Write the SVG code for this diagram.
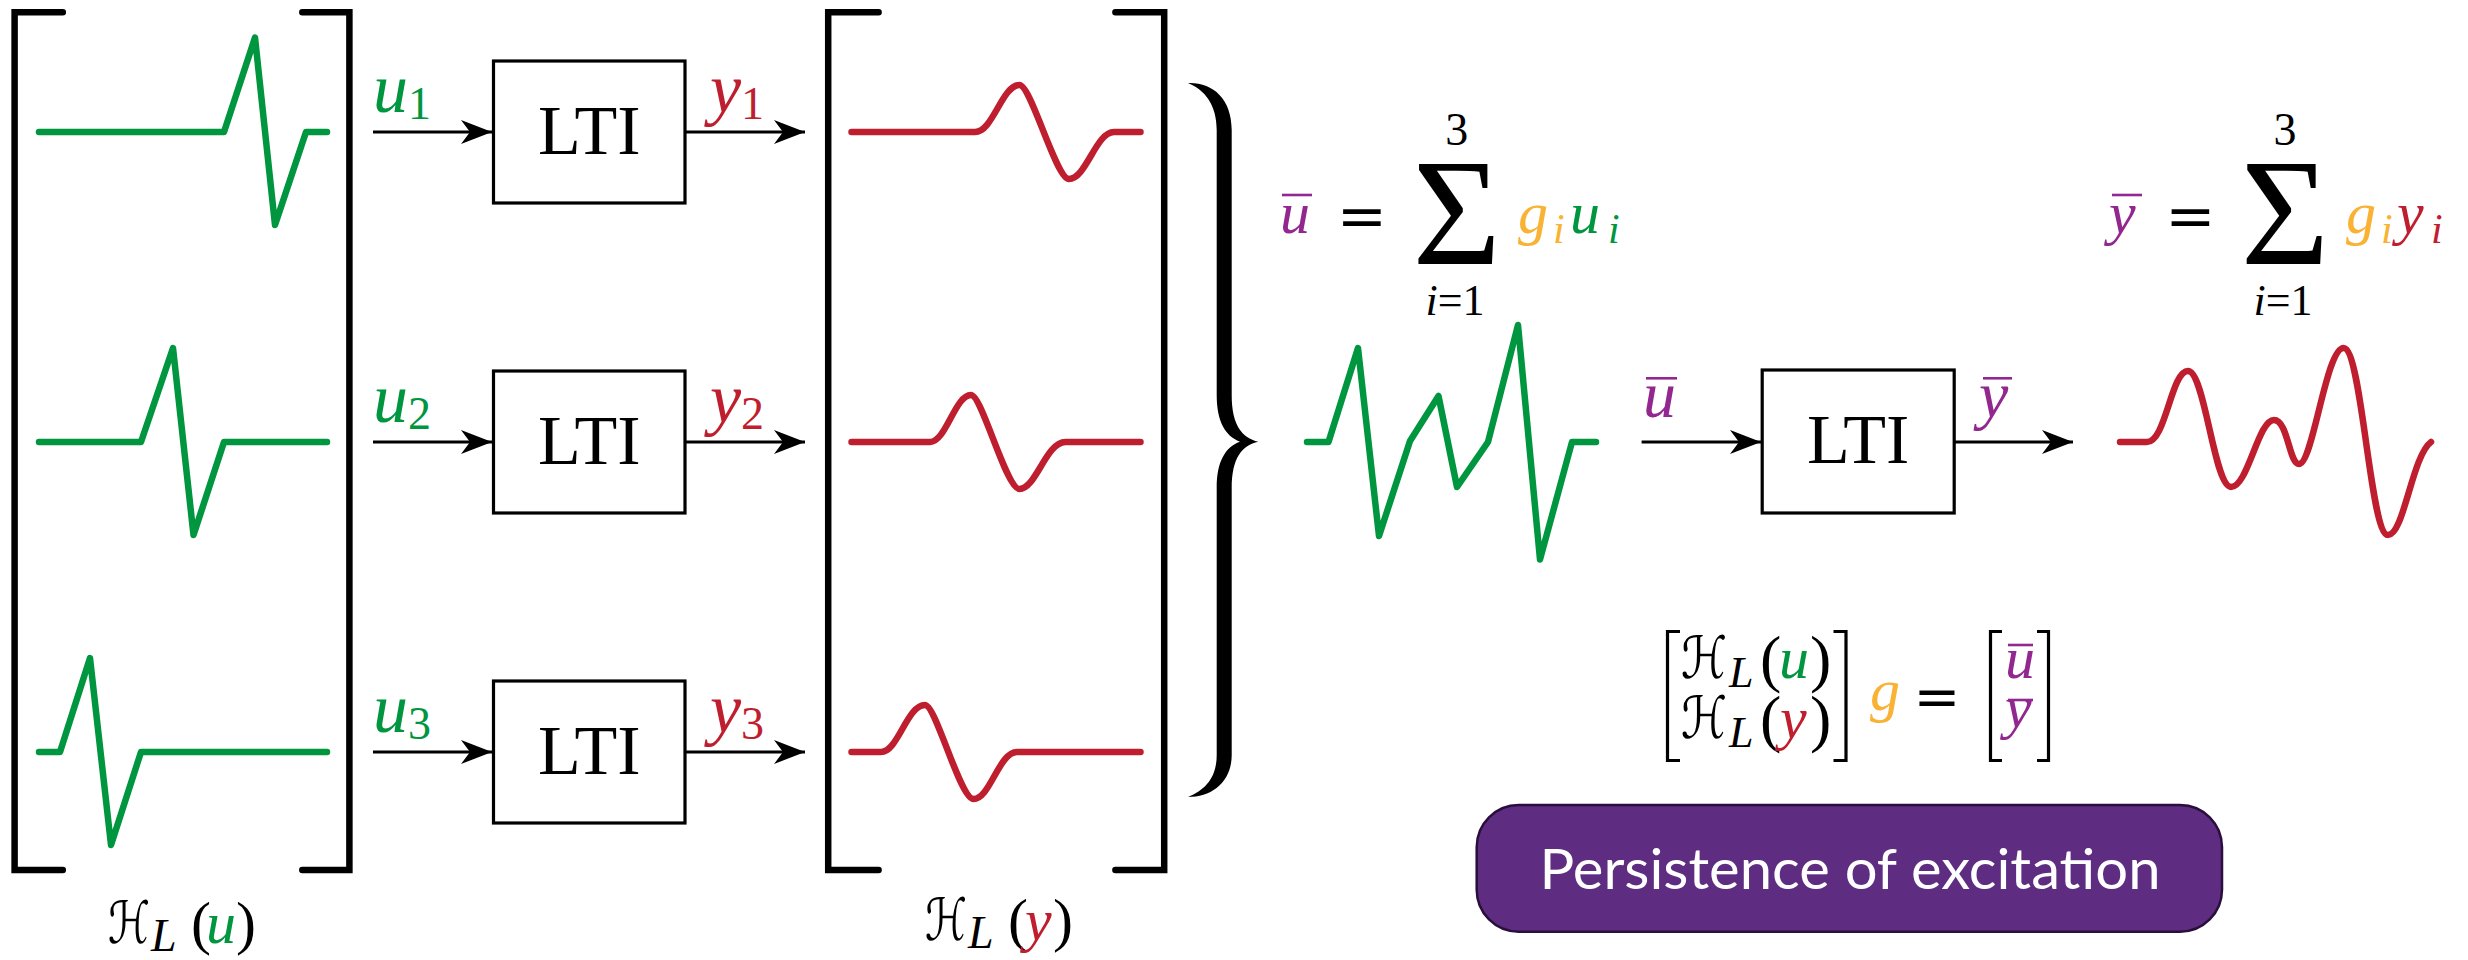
<svg xmlns="http://www.w3.org/2000/svg" width="2468" height="960" viewBox="0 0 2468 960">
<defs>
<style>
.br{fill:none;stroke:#000;stroke-width:6.5;stroke-linecap:round;stroke-linejoin:miter}
.sbr{fill:none;stroke:#000;stroke-width:3.2;stroke-linejoin:miter}
.sg{fill:none;stroke:#00963F;stroke-width:6.5;stroke-linecap:round;stroke-linejoin:round}
.sr{fill:none;stroke:#BE1E2D;stroke-width:6.5;stroke-linecap:round;stroke-linejoin:round}
.box{fill:#fff;stroke:#000;stroke-width:3.2}
.ar{fill:none;stroke:#000;stroke-width:3.2;marker-end:url(#ah)}
.lti{font-family:'Liberation Serif','Times New Roman',serif;font-size:70px;fill:#000}
.mi{font-family:'Liberation Serif','Times New Roman',serif;font-style:italic}
.rm{font-family:'Liberation Serif','Times New Roman',serif;font-style:normal}
.cal{font-family:'DejaVu Serif','DejaVu Sans',serif;font-style:normal}
.eq{font-family:'DejaVu Serif','DejaVu Sans',serif;font-style:normal}
.green{fill:#00963F}.red{fill:#BE1E2D}.org{fill:#F9B233}.pur{fill:#92278F}.blk{fill:#000}
.bar{stroke:#92278F;stroke-width:2.6}
.pe{font-family:Lato,'Open Sans',sans-serif;font-size:56px;fill:#fff}
</style>
<marker id="ah" markerUnits="userSpaceOnUse" markerWidth="34" markerHeight="28" viewBox="0 0 34 28" refX="31" refY="14" orient="auto">
<path d="M0,2 L31,14 L0,26 L9,14 Z" fill="#000"/>
</marker>
</defs>
<rect width="2468" height="960" fill="#fff"/>

<g id="matrix-u">
<path class="br" d="M62.8,12.3 H14.6 V870 H62.8"/>
<path class="br" d="M302.3,12.3 H349.4 V870 H302.3"/>
<path class="sg" d="M39,132 H224 L255,37.5 L275,225 L306,132 H327"/>
<path class="sg" d="M39,442 H141 L173,348 L193.5,535 L224,442 H327"/>
<path class="sg" d="M39,752 H60 L90,658 L111,845 L141,752 H327"/>
<text class="cal blk" x="108" y="943" font-size="58" textLength="42" lengthAdjust="spacingAndGlyphs">ℋ</text>
<text class="mi blk" x="151" y="951" font-size="46">L</text>
<text class="rm blk" x="191" y="943" font-size="60">(</text>
<text class="mi green" x="206" y="943" font-size="60">u</text>
<text class="rm blk" x="236" y="943" font-size="60">)</text>
</g>

<g id="lti1"><rect class="box" x="493.5" y="61" width="191.5" height="142"/><text class="lti" x="589.3" y="153.5" text-anchor="middle">LTI</text></g>
<g id="lti2"><rect class="box" x="493.5" y="371" width="191.5" height="142"/><text class="lti" x="589.3" y="463.5" text-anchor="middle">LTI</text></g>
<g id="lti3"><rect class="box" x="493.5" y="681" width="191.5" height="142"/><text class="lti" x="589.3" y="773.5" text-anchor="middle">LTI</text></g>

<g id="matrix-y">
<path class="br" d="M878.6,12.3 H828.2 V870 H878.6"/>
<path class="br" d="M1115.4,12.3 H1164.2 V870 H1115.4"/>
<path class="sr" d="M851.5,132 H975 C993,132 1002,85 1019.5,85 C1031,85 1056,179 1069,179 C1086,179 1096,132 1114,132 H1140.5"/>
<path class="sr" d="M851.5,442 H930 C946,442 955,395 971,395 C982,395 1006,489 1019.5,489 C1036,489 1046,442 1065.5,442 H1140.5"/>
<path class="sr" d="M851.5,752 H881 C898,752 907,705 925,705 C936,705 960,799 973.5,799 C990,799 999,752 1017,752 H1140.5"/>
<text class="cal blk" x="925" y="940" font-size="58" textLength="42" lengthAdjust="spacingAndGlyphs">ℋ</text>
<text class="mi blk" x="968" y="948" font-size="46">L</text>
<text class="rm blk" x="1008" y="940" font-size="60">(</text>
<text class="mi red" x="1025" y="940" font-size="60">y</text>
<text class="rm blk" x="1053" y="940" font-size="60">)</text>
</g>

<g id="brace">
<path fill="#000" d="M1188,83 C1212,82 1231.7,98 1231.7,130 L1231.7,395 C1231.7,425 1242,438 1258.3,441.7 C1242,445 1231.7,458 1231.7,488 L1231.7,755 C1231.7,782 1212,797 1188,797 C1205,790 1216.7,778 1216.7,755 L1216.7,488 C1216.7,462 1225,447 1240,441.7 C1225,436 1216.7,421 1216.7,395 L1216.7,130 C1216.7,105 1205,90 1188,83 Z"/>
</g>

<g id="sum-u">
<text class="mi pur" x="1280" y="233.3" font-size="60">u</text>
<line class="bar" x1="1282" y1="195" x2="1312" y2="195"/>
<text class="eq blk" x="1362" y="236" font-size="60" text-anchor="middle">=</text>
<text class="rm blk" x="1456.7" y="264" font-size="152" text-anchor="middle">Σ</text>
<text class="rm blk" x="1456.7" y="145" font-size="46" text-anchor="middle">3</text>
<text class="rm blk" x="1455" y="315" font-size="44" text-anchor="middle"><tspan class="mi">i</tspan>=1</text>
<text class="mi org" x="1518" y="233.3" font-size="60">g</text>
<text class="mi org" x="1553" y="243.3" font-size="42">i</text>
<text class="mi green" x="1570" y="233.3" font-size="60">u</text>
<text class="mi green" x="1608" y="243.3" font-size="42">i</text>
</g>

<g id="signal-ubar">
<path class="sg" d="M1307,442 H1328.5 L1358,348 L1379,536 L1410,441 L1438.5,396 L1457,487 L1488,442 L1518,325 L1540,559.5 L1572,442 H1596"/>
</g>

<g id="lti4"><rect class="box" x="1762.2" y="370" width="192" height="143"/><text class="lti" x="1858.2" y="462.5" text-anchor="middle">LTI</text></g>

<g id="sum-y">
<text class="mi pur" x="2109" y="233.3" font-size="60">y</text>
<line class="bar" x1="2112" y1="195" x2="2142" y2="195"/>
<text class="eq blk" x="2190.5" y="236" font-size="60" text-anchor="middle">=</text>
<text class="rm blk" x="2285" y="264" font-size="152" text-anchor="middle">Σ</text>
<text class="rm blk" x="2285" y="145" font-size="46" text-anchor="middle">3</text>
<text class="rm blk" x="2283" y="315" font-size="44" text-anchor="middle"><tspan class="mi">i</tspan>=1</text>
<text class="mi org" x="2346" y="233.3" font-size="60">g</text>
<text class="mi org" x="2381" y="243.3" font-size="42">i</text>
<text class="mi red" x="2397" y="233.3" font-size="60">y</text>
<text class="mi red" x="2431" y="243.3" font-size="42">i</text>
</g>

<g id="signal-ybar">
<path class="sr" d="M2120,442 H2147 C2166,442 2171,371 2188,371 C2205,371 2214,487 2231,487 C2248,487 2258,420 2274,420 C2288,420 2289,464 2299,464 C2313,464 2326,348 2343.6,348 C2362,348 2370,535 2388,535 C2404,535 2412,456 2431,442"/>
</g>

<g id="hankel-eq">
<path class="sbr" d="M1680,631.5 H1667.5 V760.5 H1680"/>
<text class="cal blk" x="1681" y="678.3" font-size="58" textLength="46" lengthAdjust="spacingAndGlyphs">ℋ</text>
<text class="mi blk" x="1729" y="687" font-size="44">L</text>
<text class="rm blk" x="1760" y="680" font-size="64">(</text>
<text class="mi green" x="1779" y="678.3" font-size="60">u</text>
<text class="rm blk" x="1810" y="680" font-size="64">)</text>
<text class="cal blk" x="1681" y="738.3" font-size="58" textLength="46" lengthAdjust="spacingAndGlyphs">ℋ</text>
<text class="mi blk" x="1729" y="747" font-size="44">L</text>
<text class="rm blk" x="1760" y="740" font-size="64">(</text>
<text class="mi red" x="1780" y="738.3" font-size="60">y</text>
<text class="rm blk" x="1810" y="740" font-size="64">)</text>
<path class="sbr" d="M1833.5,631.5 H1846 V760.5 H1833.5"/>
<text class="mi org" x="1870" y="710" font-size="60">g</text>
<text class="eq blk" x="1937" y="716" font-size="56" text-anchor="middle">=</text>
<path class="sbr" d="M2002,631.5 H1990.5 V760.5 H2002"/>
<text class="mi pur" x="2005" y="678.3" font-size="60">u</text>
<line class="bar" x1="2008" y1="645" x2="2033" y2="645"/>
<text class="mi pur" x="2005" y="726.7" font-size="60">y</text>
<line class="bar" x1="2008" y1="700" x2="2033" y2="700"/>
<path class="sbr" d="M2037,631.5 H2048.5 V760.5 H2037"/>
</g>

<g id="pe-label">
<rect x="1476.7" y="805" width="745.3" height="126.7" rx="42" ry="42" fill="#5E2C80" stroke="#2A0E3C" stroke-width="2.5"/>
<text class="pe" x="1539.5" y="889.3" textLength="621" lengthAdjust="spacingAndGlyphs">Persistence of excitation</text>
</g>

<g id="connectors">
<line class="ar" x1="373" y1="132" x2="492" y2="132"/>
<line class="ar" x1="373" y1="442" x2="492" y2="442"/>
<line class="ar" x1="373" y1="752" x2="492" y2="752"/>
<line class="ar" x1="685" y1="132" x2="805" y2="132"/>
<line class="ar" x1="685" y1="442" x2="805" y2="442"/>
<line class="ar" x1="685" y1="752" x2="805" y2="752"/>
<line class="ar" x1="1641.6" y1="442" x2="1761" y2="442"/>
<line class="ar" x1="1954.2" y1="442" x2="2073" y2="442"/>
<text class="mi green" x="373" y="112" font-size="70">u<tspan class="rm" font-size="46" dy="7">1</tspan></text>
<text class="mi green" x="373" y="422" font-size="70">u<tspan class="rm" font-size="46" dy="7">2</tspan></text>
<text class="mi green" x="373" y="732" font-size="70">u<tspan class="rm" font-size="46" dy="7">3</tspan></text>
<text class="mi red" x="710" y="112" font-size="70">y<tspan class="rm" font-size="46" dy="7">1</tspan></text>
<text class="mi red" x="710" y="422" font-size="70">y<tspan class="rm" font-size="46" dy="7">2</tspan></text>
<text class="mi red" x="710" y="732" font-size="70">y<tspan class="rm" font-size="46" dy="7">3</tspan></text>
<text class="mi pur" x="1643" y="416.7" font-size="66">u</text>
<line class="bar" x1="1646" y1="378.3" x2="1677" y2="378.3"/>
<text class="mi pur" x="1979" y="416.7" font-size="66">y</text>
<line class="bar" x1="1983" y1="378.3" x2="2012" y2="378.3"/>
</g>
</svg>
